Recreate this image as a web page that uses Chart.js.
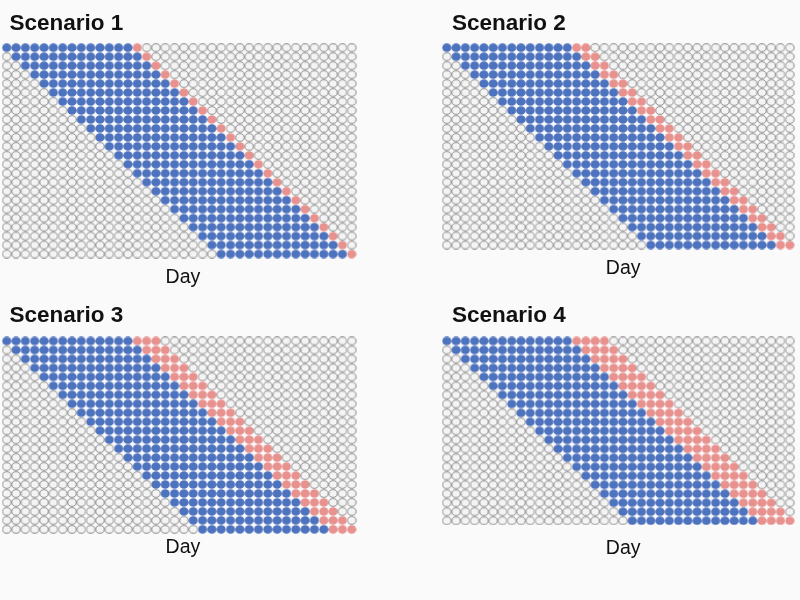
<!DOCTYPE html>
<html><head><meta charset="utf-8">
<script src="https://cdn.jsdelivr.net/npm/chart.js@4.4.1/dist/chart.umd.min.js"></script>
<style>
html,body{margin:0;padding:0;background:#fafafa;width:800px;height:600px;overflow:hidden}
canvas{position:absolute}
</style></head><body>
<canvas id="c1" width="400" height="300" style="left:0px;top:0px"></canvas>
<canvas id="c2" width="360" height="300" style="left:440px;top:0px"></canvas>
<canvas id="c3" width="400" height="300" style="left:0px;top:292px"></canvas>
<canvas id="c4" width="360" height="300" style="left:440px;top:292px"></canvas>
<script>
// ---- data ----
const dayCount = 38;
const scenarioTitles = ['Scenario 1', 'Scenario 2', 'Scenario 3', 'Scenario 4'];
const xAxisLabel = 'Day';

// first day (0-based column) of the blue run for each row
const s1Start = [0,1,2,3,4,5,6,7,8,9,10,11,12,13,14,15,16,17,18,19,20,21,22,23];
const s2Start = [0,1,2,3,4,5,6,7,8,9,10,11,12,13,14,15,16,17,18,19,20,21,22];
const s3Start = [0,1,2,3,4,5,6,7,8,9,10,11,12,13,14,15,16,17,18,19,20,21];
const s4Start = [0,1,2,3,4,5,6,7,8,9,10,11,12,13,14,15,16,17,18,19,20];

// number of blue days per row
const s1Blue = [14,14,14,14,14,14,14,14,14,14,14,14,14,14,14,14,14,14,14,14,14,14,14,14];
const s2Blue = [14,14,14,14,14,14,14,14,14,14,14,14,14,14,14,14,14,14,14,14,14,14,14];
const s3Blue = [14,14,14,14,14,14,14,14,14,14,14,14,14,14,14,14,14,14,14,14,14,14];
const s4Blue = [14,14,14,14,14,14,14,14,14,14,14,14,14,14,14,14,14,14,14,14,14];

// number of red days following the blue run
const s1Red = [1,1,1,1,1,1,1,1,1,1,1,1,1,1,1,1,1,1,1,1,1,1,1,1];
const s2Red = [2,2,2,2,2,2,2,2,2,2,2,2,2,2,2,2,2,2,2,2,2,2,2];
const s3Red = [3,3,3,3,3,3,3,3,3,3,3,3,3,3,3,3,3,3,3,3,3,3];
const s4Red = [4,4,4,4,4,4,4,4,4,4,4,4,4,4,4,4,4,4,4,4,4];

// ---- style / layout ----
const colBlue = '#4d72be';
const colRed = '#e8928f';
const colEmpty = '#f4f4f4';
const colEmptyBorder = '#7c7c7c';
const fontFam = "'Liberation Sans', Arial, sans-serif";

function ellipseStyle(fill, stroke, lw) {
  const c = document.createElement('canvas');
  c.width = 10; c.height = 9;
  const g = c.getContext('2d');
  g.beginPath();
  g.ellipse(5, 4.5, 4.6 - lw / 2, 4.25 - lw / 2, 0, 0, Math.PI * 2);
  g.fillStyle = fill; g.fill();
  if (lw > 0) { g.lineWidth = lw; g.strokeStyle = stroke; g.stroke(); }
  return c;
}
const styleEmpty = ellipseStyle(colEmpty, colEmptyBorder, 0.85);
const styleBlue = ellipseStyle(colBlue, colBlue, 0);
const styleRed = ellipseStyle(colRed, colRed, 0);

const panels = [
  {id:'c1', title:scenarioTitles[0], start:s1Start, blue:s1Blue, red:s1Red,
   pad:{left:9.5, right:43.6, top:0, bottom:11.1}, xMin:0.30, titlePB:6.2, dayPT:7.0},
  {id:'c2', title:scenarioTitles[1], start:s2Start, blue:s2Blue, red:s2Red,
   pad:{left:12, right:2.6, top:0, bottom:19.4}, xMin:0.56, titlePB:6.2, dayPT:7.7},
  {id:'c3', title:scenarioTitles[2], start:s3Start, blue:s3Blue, red:s3Red,
   pad:{left:9.5, right:43.6, top:0, bottom:33.1}, xMin:0.30, titlePB:7.5, dayPT:1.7},
  {id:'c4', title:scenarioTitles[3], start:s4Start, blue:s4Blue, red:s4Red,
   pad:{left:12, right:2.6, top:0, bottom:31.4}, xMin:0.56, titlePB:7.5, dayPT:12.0}
];

function buildPoints(start, blue, red) {
  const empty = [], b = [], r = [];
  for (let row = 0; row < start.length; row++) {
    const s = start[row], be = s + blue[row], re = be + red[row];
    for (let d = 0; d < dayCount; d++) {
      const p = {x: d, y: row};
      if (d >= s && d < be) b.push(p);
      else if (d >= be && d < re) r.push(p);
      else empty.push(p);
    }
  }
  return {empty, b, r};
}

panels.forEach(p => {
  const pts = buildPoints(p.start, p.blue, p.red);
  const rows = p.start.length;
  const base = {showLine:false, clip:false, pointRadius:4.6, pointHoverRadius:4.6};
  new Chart(document.getElementById(p.id), {
    type: 'scatter',
    data: {
      datasets: [
        Object.assign({label:'none', data:pts.empty, pointStyle:styleEmpty,
          backgroundColor:colEmpty, borderColor:colEmptyBorder}, base),
        Object.assign({label:'blue', data:pts.b, pointStyle:styleBlue,
          backgroundColor:colBlue, borderColor:colBlue}, base),
        Object.assign({label:'red', data:pts.r, pointStyle:styleRed,
          backgroundColor:colRed, borderColor:colRed}, base)
      ]
    },
    options: {
      responsive: false,
      animation: false,
      events: [],
      layout: {padding: p.pad},
      plugins: {
        legend: {display:false},
        tooltip: {enabled:false},
        title: {display:true, text:p.title, align:'start', color:'#111111',
          font:{family:fontFam, size:22.5, weight:'bold', lineHeight:1.2},
          padding:{top:10, bottom:p.titlePB}}
      },
      scales: {
        x: {type:'linear', min:p.xMin, max:dayCount - 0.5,
          grid:{display:false, drawTicks:false}, border:{display:false},
          ticks:{display:false},
          title:{display:true, text:xAxisLabel, color:'#111111',
            font:{family:fontFam, size:19.5, lineHeight:1.2},
            padding:{top:p.dayPT, bottom:0}}},
        y: {type:'linear', reverse:true, min:-0.5, max:rows - 0.5, display:false}
      }
    }
  });
});
</script>
</body></html>
